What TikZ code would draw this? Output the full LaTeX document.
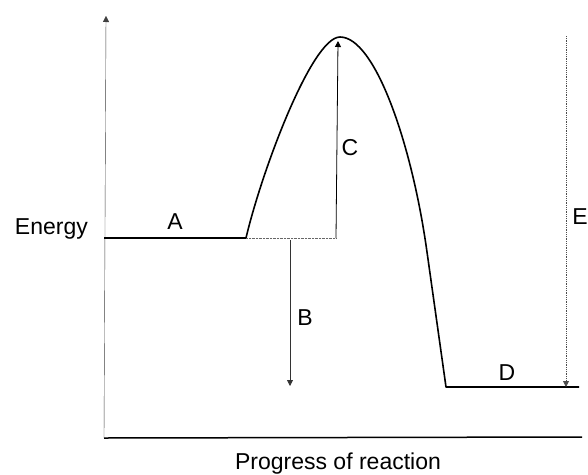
\documentclass[tikz,border=0pt]{standalone}
\usepackage{fontspec}
\setmainfont{Liberation Sans}
\usepackage{tikz}
\usetikzlibrary{arrows.meta}
\tikzset{axis/.style={thin,black!75,-{Triangle[length=6pt,width=6pt]}},curve/.style={line width=1.6pt,line join=round},arr/.style={line width=0.8pt,-{Triangle[length=6pt,width=6pt]}},lab/.style={font=\fontsize{23}{26}\selectfont,inner sep=0pt}}

\begin{document}
\begin{tikzpicture}[x=1pt,y=-1pt]
\useasboundingbox (0,0) rectangle (588,474);
\coordinate (o) at (104,438);
\coordinate (ytop) at (106,16);
\coordinate (xend) at (582,437);
\coordinate (a0) at (104,238);
\coordinate (a1) at (246,238);
\coordinate (peak) at (340,37);
\coordinate (knee) at (427,252);
\coordinate (d0) at (446,387);
\coordinate (d1) at (579,387);
\coordinate (cfoot) at (336,238);
\coordinate (ctip) at (338,41);
\coordinate (btop) at (290,240);
\coordinate (btip) at (290,386);
\coordinate (etop) at (566,36);
\coordinate (etip) at (566,387);
% axes
\draw[axis] (o) -- (ytop);
\draw[line width=1.5pt] (o) -- (xend);
% energy profile
\draw[curve] (a0) -- (a1) .. controls (262,170) and (312,37) .. (peak)
  .. controls (375,37) and (412,144) .. (knee) -- (d0) -- (d1);
\draw[thin,black!60,densely dotted] (a1) -- (cfoot);
% arrows
\draw[arr] (cfoot) -- (ctip);
\draw[arr,black!80] (btop) -- (btip);
\draw[arr,black!70,densely dotted] (etop) -- (etip);
% labels
\node[lab,anchor=base east] (energy) at (88,234) {Energy};
\node[lab] (la) at (175,222) {A};
\node[lab] (lb) at (305,318) {B};
\node[lab] (lc) at (350,148) {C};
\node[lab] (ld) at (507,373) {D};
\node[lab] (le) at (580,217) {E};
\node[lab,anchor=base] (prog) at (338,469) {Progress of reaction};
\end{tikzpicture}
\end{document}
